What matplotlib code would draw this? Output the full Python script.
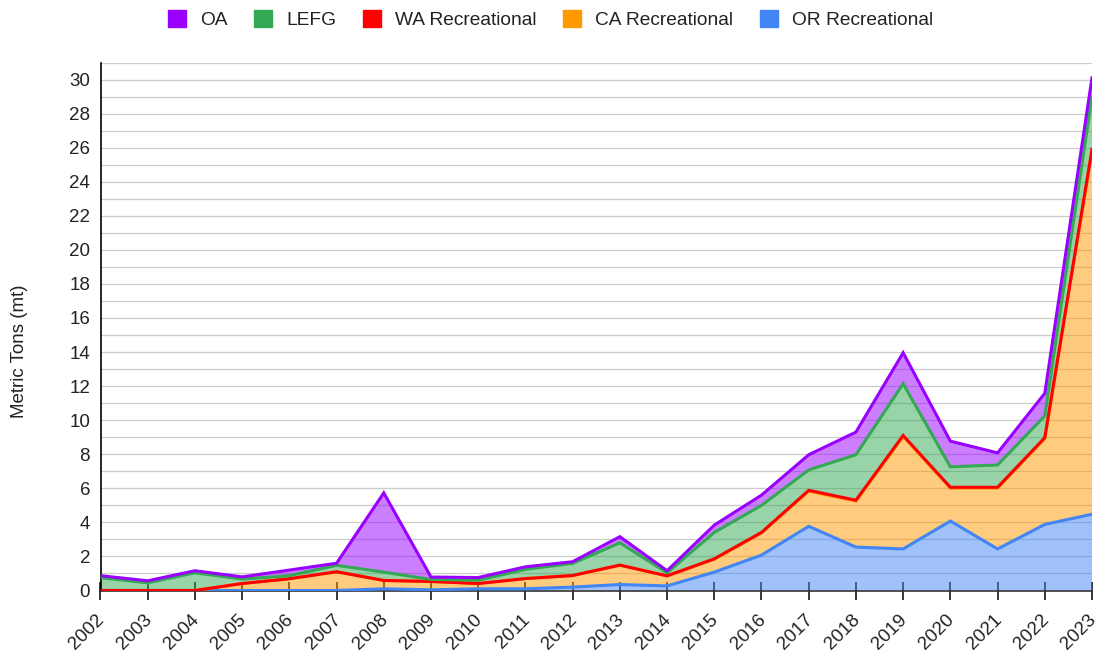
import numpy as np
import matplotlib
matplotlib.use("Agg")
import matplotlib.pyplot as plt
from matplotlib.patches import Rectangle
from matplotlib.transforms import ScaledTranslation

plt.rcParams['font.family'] = ['Liberation Sans', 'DejaVu Sans']

years = list(range(2002, 2024))
or_rec = [0, 0, 0, 0, 0, 0, 0.10, 0.04, 0.10, 0.10, 0.20, 0.35, 0.27, 1.08, 2.08, 3.77, 2.55, 2.44, 4.08, 2.44, 3.88, 4.48]
ca_rec = [0, 0, 0, 0.41, 0.69, 1.10, 0.49, 0.49, 0.31, 0.60, 0.68, 1.14, 0.59, 0.76, 1.30, 2.06, 2.70, 6.61, 1.93, 3.57, 5.04, 21.32]
wa_rec = [0, 0, 0, 0, 0, 0, 0, 0, 0, 0, 0, 0, 0, 0.02, 0.03, 0.05, 0.05, 0.05, 0.05, 0.05, 0.05, 0.10]
lefg = [0.75, 0.45, 1.04, 0.26, 0.18, 0.38, 0.49, 0.12, 0.19, 0.54, 0.71, 1.31, 0.18, 1.55, 1.59, 1.20, 2.67, 3.04, 1.20, 1.31, 1.28, 3.10]
oa = [0.12, 0.12, 0.12, 0.13, 0.33, 0.12, 4.65, 0.14, 0.16, 0.15, 0.10, 0.36, 0.12, 0.43, 0.60, 0.89, 1.33, 1.82, 1.51, 0.71, 1.33, 1.10]

series = [
    ("OR Recreational", or_rec, "#4285f4"),
    ("CA Recreational", ca_rec, "#ff9900"),
    ("WA Recreational", wa_rec, "#ff0000"),
    ("LEFG", lefg, "#34a853"),
    ("OA", oa, "#9900ff"),
]

W, H = 1101, 653
fig = plt.figure(figsize=(W / 100, H / 100), dpi=100)
L, R, T, B = 100.5, 1092, 62.5, 590.5
ax = fig.add_axes([L / W, 1 - B / H, (R - L) / W, (B - T) / H])

vals = np.array([s[1] for s in series], dtype=float)
cum = np.cumsum(vals, axis=0)
x = np.array(years)

ax.stackplot(x, vals, colors=[s[2] for s in series], alpha=0.5, linewidth=0)
for i, (name, v, c) in enumerate(series):
    ax.plot(x, cum[i], color=c, lw=2.2, solid_joinstyle='miter', zorder=3 + i)

ax.set_xlim(2002, 2023)
ax.set_ylim(0, 31)
ax.set_yticks(range(0, 31, 2))
ax.set_yticks(range(0, 32), minor=True)
ax.yaxis.grid(True, which='both', color='#cccccc', lw=0.9)
ax.set_axisbelow(True)
ax.tick_params(axis='y', which='both', length=0, labelsize=13.5, colors='#222222', pad=7.5)
ax.set_xticks(years)
ax.set_xticklabels([str(y) for y in years], rotation=45, ha='right', va='center',
                   rotation_mode='anchor', fontsize=13.5, color='#222222')
ax.tick_params(axis='x', length=13.5, width=1.1, color='#000000', direction='inout', pad=12.5)
off = ScaledTranslation(0.015, 0, fig.dpi_scale_trans)
for lab in ax.get_xticklabels():
    lab.set_transform(lab.get_transform() + off)
for sp in ['top', 'right']:
    ax.spines[sp].set_visible(False)
ax.spines['left'].set_color('#000000')
ax.spines['left'].set_linewidth(1.2)
ax.spines['bottom'].set_color('#333333')
ax.spines['bottom'].set_linewidth(1.2)

fig.text(20 / W, 1 - 351 / H, "Metric Tons (mt)", rotation=90, ha='center', va='center',
         fontsize=13.5, color='#222222')

# legend
handles = [Rectangle((0, 0), 1, 1, facecolor=c, edgecolor=c) for _, _, c in series[::-1]]
labels = [n for n, _, _ in series[::-1]]
fig.legend(handles, labels, loc='center', bbox_to_anchor=(0.5, 1 - 19.5 / H), ncol=5,
           frameon=False, fontsize=13.8, handlelength=0.94, handleheight=0.94,
           handletextpad=0.73, columnspacing=1.4, labelcolor='#222222',
           borderpad=0, borderaxespad=0)

fig.savefig("out.png", dpi=100)
